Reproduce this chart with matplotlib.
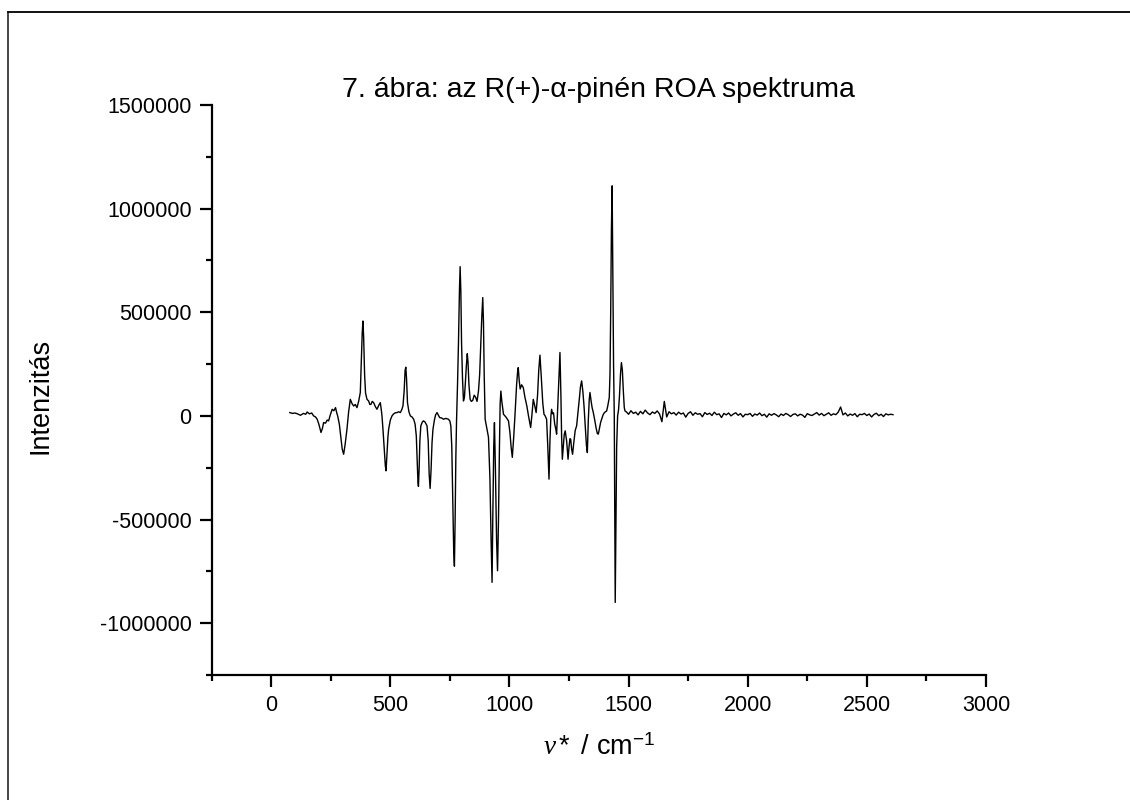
import numpy as np
import matplotlib
matplotlib.use("Agg")
import matplotlib.pyplot as plt
from matplotlib.lines import Line2D
from matplotlib.ticker import MultipleLocator, FixedLocator, FuncFormatter

plt.rcParams.update({
    "font.family": ["Liberation Sans", "DejaVu Sans"],
    "mathtext.fontset": "custom",
    "mathtext.rm": "Liberation Sans",
    "mathtext.it": "Liberation Serif:italic",
    "axes.unicode_minus": False,
})

# band region, wavenumber [cm-1] and ROA intensity [x1000]
nu_bands = [
    78, 90, 100, 110, 123, 135, 145, 151, 160, 170,
    178, 186, 193, 200, 209, 215, 220, 228, 235, 241,
    248, 256, 263, 270, 275, 279, 286, 292, 298, 304,
    310, 318, 325, 332, 339, 346, 353, 360, 367, 374,
    378, 382, 385, 388, 392, 396, 402, 409, 414, 419,
    424, 430, 437, 444, 451, 458, 462, 465, 470, 475,
    479, 482, 486, 490, 493, 500, 507, 514, 521, 528,
    535, 542, 548, 553, 558, 562, 565, 568, 572, 578,
    584, 591, 598, 604, 609, 613, 616, 618, 621, 624,
    628, 634, 639, 646, 654, 659, 663, 667, 671, 675,
    679, 685, 690, 696, 701, 707, 715, 723, 733, 744,
    750, 754, 758, 762, 766, 769, 772, 775, 778, 782,
    786, 790, 793, 796, 799, 803, 807, 811, 815, 819,
    823, 826, 830, 835, 840, 846, 852, 858, 864, 870,
    875, 879, 884, 888, 891, 894, 898, 905, 912, 918,
    923, 927, 930, 934, 937, 941, 946, 950, 954, 958,
    961, 964, 968, 975, 985, 991, 996, 1002, 1007, 1012,
    1018, 1024, 1030, 1034, 1037, 1041, 1045, 1051, 1058, 1065,
    1073, 1080, 1089, 1094, 1100, 1106, 1112, 1118, 1123, 1128,
    1133, 1140, 1145, 1150, 1156, 1161, 1166, 1170, 1174, 1177,
    1181, 1185, 1190, 1194, 1198, 1203, 1208, 1212, 1216, 1219,
    1222, 1226, 1230, 1234, 1240, 1246, 1250, 1254, 1257, 1261,
    1265, 1270, 1276, 1282, 1288, 1294, 1298, 1303, 1308, 1313,
    1318, 1323, 1327, 1331, 1335, 1338, 1343, 1347, 1352, 1358,
    1364, 1369, 1373, 1378, 1383, 1387, 1393, 1398, 1403, 1408,
    1413, 1419, 1422, 1425, 1428, 1431, 1434, 1437, 1440, 1442,
    1444, 1447, 1450, 1454, 1458, 1462, 1466, 1470, 1474, 1478,
    1482, 1485,
]
int_bands = [
    16, 12, 14, 10, 3, 12, 8, 19, 10, 14,
    0, -5, -16, -40, -80, -60, -32, -35, -20, -24,
    5, 32, 25, 40, 15, 0, -40, -100, -160, -185,
    -140, -64, 20, 80, 60, 48, 55, 40, 70, 113,
    250, 400, 458, 380, 200, 110, 80, 72, 55, 56,
    70, 64, 45, 32, 50, 64, 30, 0, -80, -170,
    -240, -265, -180, -100, -64, -20, 0, 10, 15, 16,
    20, 16, 30, 48, 120, 220, 235, 180, 64, 20,
    0, -5, -16, -40, -96, -220, -320, -340, -250, -120,
    -48, -30, -24, -30, -48, -120, -280, -350, -260, -130,
    -64, -20, 5, 16, 5, -8, -10, -16, -12, -16,
    -25, -48, -150, -400, -650, -725, -500, -200, -20, 150,
    350, 600, 720, 600, 350, 180, 72, 90, 160, 240,
    300, 260, 150, 80, 70, 75, 100, 90, 70, 120,
    200, 320, 480, 571, 450, 200, -16, -60, -103, -300,
    -600, -803, -500, -150, -32, -250, -600, -747, -500, -150,
    60, 120, 70, 8, -5, -15, -24, -80, -150, -200,
    -100, 20, 150, 210, 233, 170, 130, 150, 137, 90,
    48, 0, -56, 0, 80, 50, 16, 100, 220, 293,
    200, 60, 8, 0, -16, -150, -305, -120, 0, 32,
    10, 15, -40, -60, -88, 50, 200, 306, 100, -100,
    -209, -150, -90, -72, -120, -209, -150, -110, -112, -160,
    -185, -130, -70, -48, 20, 90, 140, 169, 120, 48,
    -50, -140, -177, -20, 80, 113, 70, 40, 16, -20,
    -60, -85, -88, -60, -30, -16, 5, 15, 20, 24,
    50, 89, 200, 500, 900, 1110, 700, 250, 0, -500,
    -900, -500, -150, 0, 30, 100, 200, 257, 220, 120,
    40, 24,
]

# flat, noisy tail above the last band
nu_base = [
    1490, 1500, 1510, 1520, 1530, 1540, 1550, 1560, 1570, 1580, 1590,
    1600, 1610, 1620, 1630, 1640, 1650, 1660, 1670, 1680, 1690,
    1700, 1710, 1720, 1730, 1740, 1750, 1760, 1770, 1780, 1790,
    1800, 1810, 1820, 1830, 1840, 1850, 1860, 1870, 1880, 1890,
    1900, 1910, 1920, 1930, 1940, 1950, 1960, 1970, 1980, 1990,
    2000, 2010, 2020, 2030, 2040, 2050, 2060, 2070, 2080, 2090,
    2100, 2110, 2120, 2130, 2140, 2150, 2160, 2170, 2180, 2190,
    2200, 2210, 2220, 2230, 2240, 2250, 2260, 2270, 2280, 2290,
    2300, 2310, 2320, 2330, 2340, 2350, 2360, 2370, 2380, 2390,
    2400, 2410, 2420, 2430, 2440, 2450, 2460, 2470, 2480, 2490,
    2500, 2510, 2520, 2530, 2540, 2550, 2560, 2570, 2580, 2590,
    2600, 2610,
]
int_base = [
    20, 8, 25, 12, 18, 5, 22, 10, 28, 14, 6,
    19, 12, 24, 9, -28, 70, -5, 20, 10, 16,
    4, 18, 9, 14, -6, 12, 20, 3, 15, 8,
    11, -4, 16, 7, 13, 2, 18, 6, 10, -8,
    12, 5, 14, 0, 9, 15, 3, 11, -5, 8,
    6, 12, -2, 9, 4, 14, 1, 8, -6, 10,
    3, 11, 5, -4, 9, 2, 12, 6, -3, 7,
    10, 0, 8, 4, -7, 11, 5, 2, 9, 16,
    4, 12, 1, 8, 15, 3, 10, 6, 18, 43,
    5, 14, 0, 9, 3, 11, -4, 8, 6, 12,
    2, 9, -5, 7, 13, 1, 8, -3, 10, 5,
    8, 6,
]

nu = np.array(nu_bands + nu_base, dtype=float)
intensity = np.array(int_bands + int_base, dtype=float) * 1000.0

TICK_SIZE = 15.5
LABEL_SIZE = 19.5
TITLE_SIZE = 20.5

fig = plt.figure(figsize=(11.3, 8.0), dpi=100)
ax = fig.add_axes([0.1873, 0.15625, 0.6852, 0.7125])

ax.plot(nu, intensity, "-", color="black", lw=1.0)

ax.set_xlim(-250, 3000)
ax.set_ylim(-1250000, 1500000)
ax.xaxis.set_major_locator(MultipleLocator(500))
ax.xaxis.set_minor_locator(FixedLocator([-250, 250, 750, 1250, 1750, 2250, 2750]))
ax.yaxis.set_major_locator(MultipleLocator(500000))
ax.yaxis.set_minor_locator(FixedLocator([-1250000, -750000, -250000, 250000, 750000, 1250000]))
ax.yaxis.set_major_formatter(FuncFormatter(lambda v, p: f"{int(round(v))}"))

for side in ("top", "right"):
    ax.spines[side].set_visible(False)
for side in ("left", "bottom"):
    ax.spines[side].set_linewidth(1.6)
ax.tick_params(which="major", direction="out", length=8.5, width=1.6,
               labelsize=TICK_SIZE, pad=6)
ax.tick_params(which="minor", direction="out", length=4.5, width=1.6)

ax.set_title("7. ábra: az R(+)-α-pinén ROA spektruma", fontsize=TITLE_SIZE, pad=6)
ax.set_ylabel("Intenzitás", fontsize=LABEL_SIZE)
ax.yaxis.set_label_coords(-0.204, 0.49)
ax.set_xlabel(r"$\nu*$ / cm$^{-1}$", fontsize=LABEL_SIZE)
ax.xaxis.set_label_coords(0.5, -0.105)

# partial page frame (top and left edges visible in the original)
fig.add_artist(Line2D([8.3 / 1130, 8.3 / 1130], [0, 1 - 12.3 / 800],
                      transform=fig.transFigure, color="#444444", lw=1.4))
fig.add_artist(Line2D([8.3 / 1130, 1], [1 - 12.3 / 800, 1 - 12.3 / 800],
                      transform=fig.transFigure, color="#111111", lw=1.4))

fig.savefig("out.png", dpi=100)
